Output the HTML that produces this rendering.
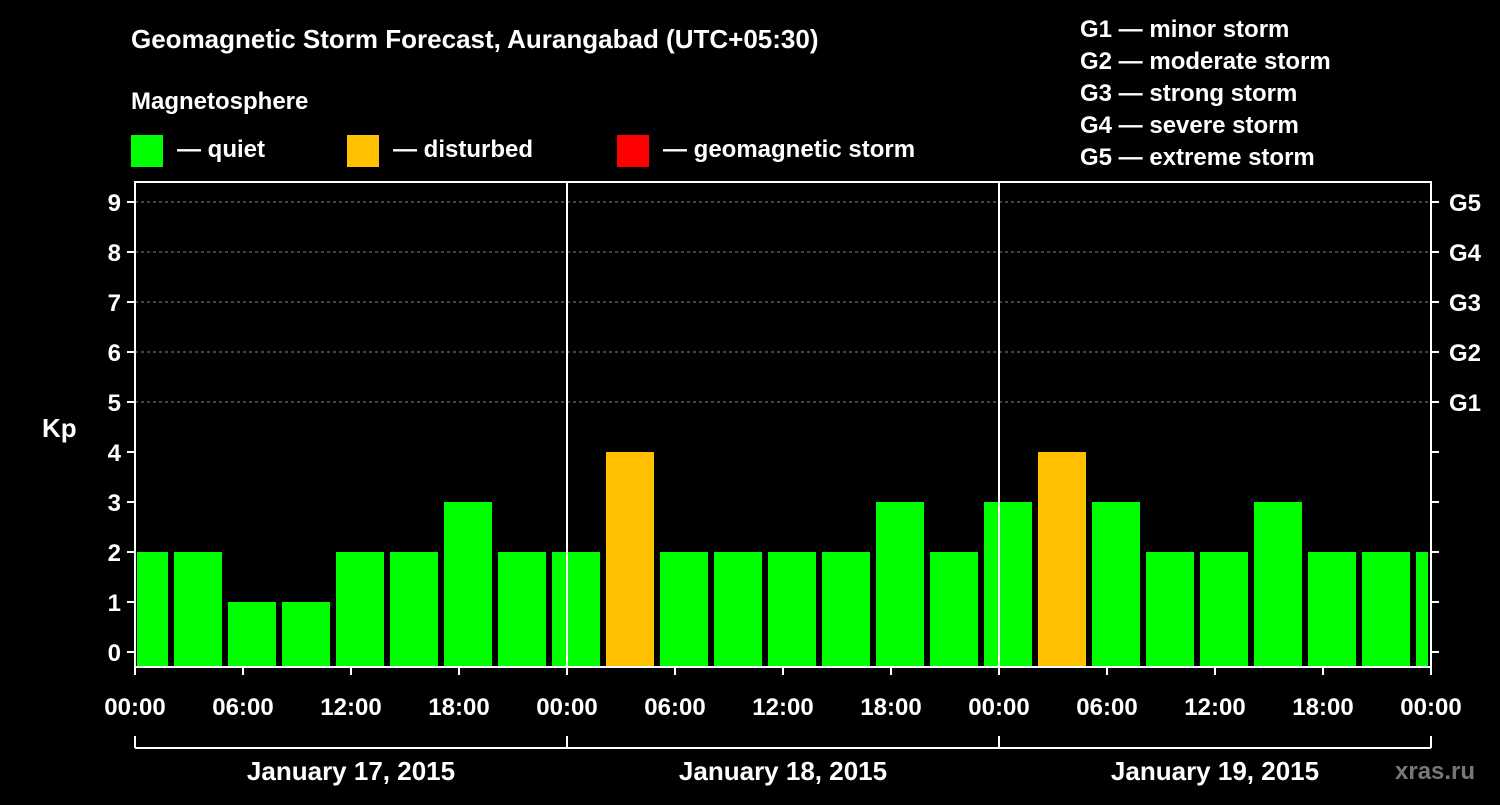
<!DOCTYPE html>
<html><head><meta charset="utf-8"><style>
body{margin:0;background:#000;width:1500px;height:800px;overflow:hidden}
svg text{font-family:"Liberation Sans",Arial,sans-serif;font-weight:bold;fill:#fff}
</style></head><body>
<svg id="c" width="1500" height="800" viewBox="0 0 1500 800">
<text x="131" y="48" font-size="26">Geomagnetic Storm Forecast, Aurangabad (UTC+05:30)</text>
<text x="131" y="109" font-size="24">Magnetosphere</text>
<rect x="131" y="135" width="32" height="32" fill="#00ff00"/>
<text x="177" y="157" font-size="24">— quiet</text>
<rect x="347" y="135" width="32" height="32" fill="#ffc000"/>
<text x="393" y="157" font-size="24">— disturbed</text>
<rect x="617" y="135" width="32" height="32" fill="#ff0000"/>
<text x="663" y="157" font-size="24">— geomagnetic storm</text>
<g font-size="24">
<text x="1080" y="37">G1 — minor storm</text>
<text x="1080" y="69">G2 — moderate storm</text>
<text x="1080" y="101">G3 — strong storm</text>
<text x="1080" y="133">G4 — severe storm</text>
<text x="1080" y="165">G5 — extreme storm</text>
</g>
<text x="42" y="437" font-size="26">Kp</text>
<text x="1395" y="779" font-size="24" fill="#888" style="fill:#777">xras.ru</text>
<g id="plot"></g>
</svg>
<script>
const kpValues=[2,2,1,1,2,2,3,2,2,4,2,2,2,2,3,2,3,4,3,2,2,3,2,2,2];
const yTicks=[0,1,2,3,4,5,6,7,8,9];
const gLabels=["G1","G2","G3","G4","G5"];
const xTickLabels=["00:00","06:00","12:00","18:00","00:00","06:00","12:00","18:00","00:00","06:00","12:00","18:00","00:00"];
const dayLabels=["January 17, 2015","January 18, 2015","January 19, 2015"];
const L=135,R=1431,T=182,B=667;
const y=v=>652-v*50;
const xh=h=>L+h*18; // hours since start
const ns="http://www.w3.org/2000/svg";
const p=document.getElementById('plot');
function mk(t,a){const e=document.createElementNS(ns,t);for(const k in a)e.setAttribute(k,a[k]);p.appendChild(e);return e;}
// grid
for(let v=5;v<=9;v++){const e=mk('line',{x1:L,x2:R,y1:y(v),y2:y(v),stroke:'#888','stroke-dasharray':'3,3','stroke-width':1});

}
// bars: slots start at hour 2 - 3
kpValues.forEach((v,i)=>{let s=2+(i-1)*3,e=s+3;let x0=Math.max(xh(s)+3,L+2),x1=Math.min(xh(e)-3,R-3);
const c=v>=5?'#ff0000':(v>=4?'#ffc000':'#00ff00');
const r=mk('rect',{x:x0,y:y(v),width:x1-x0,height:B-y(v),fill:c});

});
// day dividers
[1,2].forEach(d=>{const e=mk('line',{x1:xh(24*d),x2:xh(24*d),y1:T,y2:B,stroke:'#fff','stroke-width':2});

});
const fr=mk('rect',{x:L,y:T,width:R-L,height:B-T,fill:'none',stroke:'#fff','stroke-width':2});


yTicks.forEach(v=>{mk('line',{x1:L-8,x2:L,y1:y(v),y2:y(v),stroke:'#fff','stroke-width':2});mk('line',{x1:R,x2:R+8,y1:y(v),y2:y(v),stroke:'#fff','stroke-width':2});
const t=mk('text',{x:L-14,y:y(v)+9,'font-size':24,'text-anchor':'end'});t.textContent=v;

});
gLabels.forEach((g,i)=>{const t=mk('text',{x:R+18,y:y(5+i)+9,'font-size':24});t.textContent=g;

});
xTickLabels.forEach((s,i)=>{const x=xh(i*6);mk('line',{x1:x,x2:x,y1:B,y2:B+8,stroke:'#fff','stroke-width':2});
const t=mk('text',{x:x,y:715,'font-size':24,'text-anchor':'middle'});t.textContent=s;

});
mk('line',{x1:L,x2:R,y1:748,y2:748,stroke:'#fff','stroke-width':2});
for(let d=0;d<=3;d++)mk('line',{x1:xh(24*d),x2:xh(24*d),y1:736,y2:748,stroke:'#fff','stroke-width':2});
dayLabels.forEach((s,i)=>{const t=mk('text',{x:xh(24*i+12),y:780,'font-size':26,'text-anchor':'middle'});t.textContent=s;

});
</script>
</body></html>
